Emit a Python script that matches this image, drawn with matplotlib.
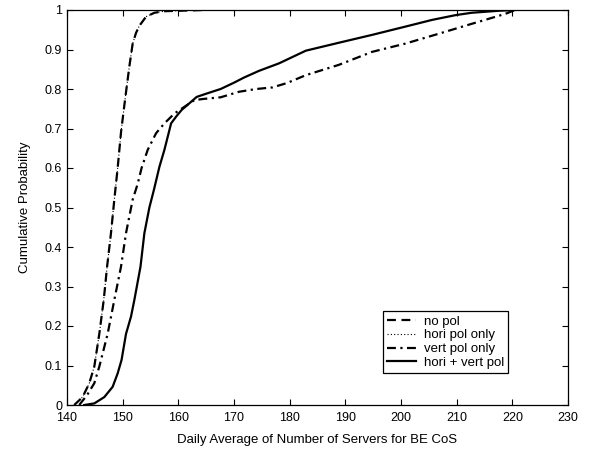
#!/usr/bin/env python3
"""
CDF of daily average number of servers for BE CoS
"""

import matplotlib
matplotlib.use('Agg')
import matplotlib.pyplot as plt
from matplotlib.ticker import FormatStrFormatter

plt.rcParams['font.family'] = ['Liberation Sans', 'DejaVu Sans']
plt.rcParams['font.size'] = 9

# curves (x = servers, y = cumulative probability)
nopol_x = [141.3, 142.8, 144.0, 144.9, 145.8, 146.6, 147.2, 147.9, 148.5, 149.1, 149.7,
           150.4, 151.2, 151.8, 152.4, 153.0, 154.2, 155.7, 157.5, 164.6]
nopol_y = [0.0, 0.02, 0.055, 0.097, 0.18, 0.266, 0.35, 0.435, 0.52, 0.60, 0.69,
           0.77, 0.857, 0.915, 0.942, 0.96, 0.983, 0.993, 0.997, 1.0]

# horizontal polarization only lies on top of the no-pol curve
hori_x = nopol_x
hori_y = nopol_y

vert_x = [142.2, 143.6, 144.9, 145.8, 147.3, 148.5, 149.7, 150.6, 151.8, 152.7, 153.4,
          154.5, 156.0, 157.5, 159.3, 161.1, 162.9, 164.6, 167.6, 170.9, 174.0,
          176.9, 179.5, 182.9, 188.8, 194.8, 200.8, 206.8, 212.7, 218.7, 220.5]
vert_y = [0.0, 0.025, 0.055, 0.097, 0.18, 0.266, 0.35, 0.435, 0.52, 0.56, 0.60,
          0.646, 0.688, 0.713, 0.738, 0.755, 0.772, 0.775, 0.779, 0.793, 0.80,
          0.804, 0.815, 0.835, 0.861, 0.894, 0.915, 0.94, 0.965, 0.99, 1.0]

both_x = [143.1, 144.9, 146.7, 148.2, 149.1, 149.8, 150.6, 151.5, 152.1, 153.2,
          153.9, 154.8, 155.6, 156.6, 157.5, 158.7, 159.6, 160.6, 162.0, 163.3,
          165.2, 167.6, 170.0, 171.8, 174.5, 178.1, 182.9, 188.8, 194.8, 200.8,
          205.6, 209.8, 212.7, 217.5, 220.5]
both_y = [0.0, 0.004, 0.02, 0.046, 0.08, 0.114, 0.18, 0.224, 0.266, 0.35,
          0.435, 0.50, 0.544, 0.603, 0.646, 0.713, 0.73, 0.747, 0.764, 0.78,
          0.789, 0.80, 0.816, 0.829, 0.846, 0.865, 0.897, 0.917, 0.937, 0.958,
          0.975, 0.987, 0.993, 0.998, 1.0]

xticks = list(range(140, 231, 10))
yticks = [i / 10 for i in range(11)]

fig = plt.figure(figsize=(5.89, 4.54), dpi=100)
ax = fig.add_axes([67 / 589, 49 / 454, 501 / 589, 395 / 454])

ax.plot(nopol_x, nopol_y, color='k', linestyle=(0, (4, 2.5)), linewidth=1.6, label='no pol')
ax.plot(hori_x, hori_y, color='k', linestyle=(0, (1, 2)), linewidth=0.8, label='hori pol only')
ax.plot(vert_x, vert_y, color='k', linestyle=(0, (4, 2, 1, 2)), linewidth=1.6, label='vert pol only')
ax.plot(both_x, both_y, color='k', linestyle='-', linewidth=1.6, label='hori + vert pol')

ax.set_xlim(140, 230)
ax.set_ylim(0, 1)
ax.set_xticks(xticks)
ax.set_yticks(yticks)
ax.yaxis.set_major_formatter(FormatStrFormatter('%g'))
ax.tick_params(direction='in', top=True, right=True, length=4, width=0.8, labelsize=9)
ax.tick_params(axis='x', pad=5)
for s in ax.spines.values():
    s.set_linewidth(0.9)

ax.set_xlabel('Daily Average of Number of Servers for BE CoS', fontsize=9.5, labelpad=7)
ax.set_ylabel('Cumulative Probability', fontsize=9.5, labelpad=10)

leg = ax.legend(loc='lower left', bbox_to_anchor=(0.631, 0.081), fontsize=9.5,
                fancybox=False, framealpha=1, edgecolor='k', handlelength=2.2,
                handletextpad=0.6, borderpad=0.3, labelspacing=0.12, borderaxespad=0)
leg.get_frame().set_linewidth(0.9)

fig.savefig('out.png', dpi=100)
